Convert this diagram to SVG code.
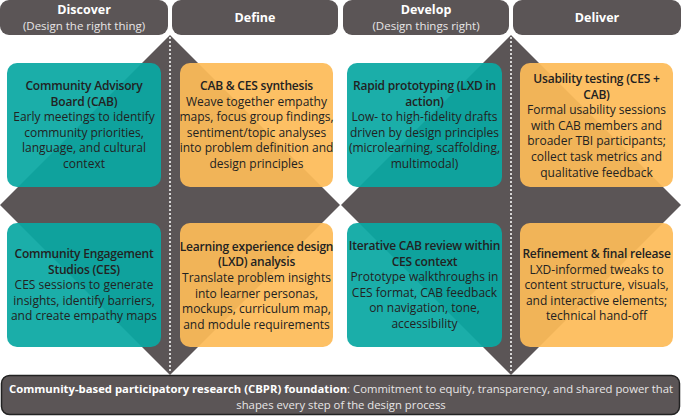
<svg xmlns="http://www.w3.org/2000/svg" width="681" height="416" viewBox="0 0 681 416">
<style>
.hdr{fill:#5b5556}
.dia{fill:#5b5556}
.teal{fill:#0aa8a3;fill-opacity:0.93}
.orng{fill:#fdbb58;fill-opacity:0.93}
.bt{font-family:"Open Sans","Liberation Sans",sans-serif;font-size:12px;fill:#222;text-anchor:middle}
.b{font-weight:600;letter-spacing:-0.2px}
.ht{font-family:"Open Sans","Liberation Sans",sans-serif;font-size:12.5px;font-weight:700;fill:#fff;text-anchor:middle}
.hs{font-family:"Open Sans","Liberation Sans",sans-serif;font-size:11.5px;fill:#e8e6e6;text-anchor:middle}
.div{stroke:#fff;stroke-width:1.5;stroke-dasharray:2 2;fill:none}
.ft{font-family:"Open Sans","Liberation Sans",sans-serif;font-size:11.3px;fill:#e8e6e6;text-anchor:middle}
</style>
<rect width="681" height="416" fill="#fff"/>
<g id="background">
<polygon class="dia" points="170,35 340,205 170,375 0,205"/>
<polygon class="dia" points="511,35 681,205 511,375 341,205"/>
</g>
<g id="headers">
<g id="h-discover"><rect class="hdr" x="0" y="0" width="168" height="35" rx="9"/>
<text class="ht" x="84" y="14">Discover</text><text class="hs" x="84" y="30">(Design the right thing)</text></g>
<g id="h-define"><rect class="hdr" x="172" y="0" width="166" height="35" rx="9"/>
<text class="ht" x="255" y="22">Define</text></g>
<g id="h-develop"><rect class="hdr" x="343" y="0" width="166" height="35" rx="9"/>
<text class="ht" x="426" y="14">Develop</text><text class="hs" x="426" y="30">(Design things right)</text></g>
<g id="h-deliver"><rect class="hdr" x="513" y="0" width="168" height="35" rx="9"/>
<text class="ht" x="597" y="22">Deliver</text></g>
</g>
<g id="dividers">
<line class="div" x1="170" y1="37" x2="170" y2="373"/>
<line class="div" x1="511" y1="37" x2="511" y2="373"/>
</g>
<g id="cab">
<rect class="teal" x="7" y="63" width="154" height="124" rx="10"/>
<text class="bt" y="90"><tspan class="b" x="84">Community Advisory</tspan><tspan class="b" x="84" dy="15.6">Board (CAB)</tspan><tspan x="84" dy="15.6">Early meetings to identify</tspan><tspan x="84" dy="15.6">community priorities,</tspan><tspan x="84" dy="15.6">language, and cultural</tspan><tspan x="84" dy="15.6">context</tspan></text>
</g>
<g id="synthesis">
<rect class="orng" x="180" y="63" width="153" height="124" rx="10"/>
<text class="bt" y="90"><tspan class="b" x="256.5">CAB &amp; CES synthesis</tspan><tspan x="256.5" dy="15.6">Weave together empathy</tspan><tspan x="256.5" dy="15.6">maps, focus group findings,</tspan><tspan x="256.5" dy="15.6">sentiment/topic analyses</tspan><tspan x="256.5" dy="15.6">into problem definition and</tspan><tspan x="256.5" dy="15.6">design principles</tspan></text>
</g>
<g id="prototyping">
<rect class="teal" x="347" y="63" width="155" height="124" rx="10"/>
<text class="bt" y="90"><tspan class="b" x="424.5">Rapid prototyping (LXD in</tspan><tspan class="b" x="424.5" dy="15.6">action)</tspan><tspan x="424.5" dy="15.6">Low- to high-fidelity drafts</tspan><tspan x="424.5" dy="15.6">driven by design principles</tspan><tspan x="424.5" dy="15.6">(microlearning, scaffolding,</tspan><tspan x="424.5" dy="15.6">multimodal)</tspan></text>
</g>
<g id="usability">
<rect class="orng" x="520" y="63" width="153" height="124" rx="10"/>
<text class="bt" y="83"><tspan class="b" x="596.5">Usability testing (CES +</tspan><tspan class="b" x="596.5" dy="15.6">CAB)</tspan><tspan x="596.5" dy="15.6">Formal usability sessions</tspan><tspan x="596.5" dy="15.6">with CAB members and</tspan><tspan x="596.5" dy="15.6">broader TBI participants;</tspan><tspan x="596.5" dy="15.6">collect task metrics and</tspan><tspan x="596.5" dy="15.6">qualitative feedback</tspan></text>
</g>
<g id="ces">
<rect class="teal" x="7" y="223" width="154" height="124" rx="10"/>
<text class="bt" y="258"><tspan class="b" x="84">Community Engagement</tspan><tspan class="b" x="84" dy="15.6">Studios (CES)</tspan><tspan x="84" dy="15.6">CES sessions to generate</tspan><tspan x="84" dy="15.6">insights, identify barriers,</tspan><tspan x="84" dy="15.6">and create empathy maps</tspan></text>
</g>
<g id="lxd">
<rect class="orng" x="180" y="223" width="153" height="124" rx="10"/>
<text class="bt" y="250.7"><tspan class="b" x="256.5">Learning experience design</tspan><tspan class="b" x="256.5" dy="15.6">(LXD) analysis</tspan><tspan x="256.5" dy="15.6">Translate problem insights</tspan><tspan x="256.5" dy="15.6">into learner personas,</tspan><tspan x="256.5" dy="15.6">mockups, curriculum map,</tspan><tspan x="256.5" dy="15.6">and module requirements</tspan></text>
</g>
<g id="review">
<rect class="teal" x="347" y="223" width="155" height="124" rx="10"/>
<text class="bt" y="250"><tspan class="b" x="424.5">Iterative CAB review within</tspan><tspan class="b" x="424.5" dy="15.6">CES context</tspan><tspan x="424.5" dy="15.6">Prototype walkthroughs in</tspan><tspan x="424.5" dy="15.6">CES format, CAB feedback</tspan><tspan x="424.5" dy="15.6">on navigation, tone,</tspan><tspan x="424.5" dy="15.6">accessibility</tspan></text>
</g>
<g id="release">
<rect class="orng" x="520" y="223" width="153" height="124" rx="10"/>
<text class="bt" y="258"><tspan class="b" x="596.5">Refinement &amp; final release</tspan><tspan x="596.5" dy="15.6">LXD-informed tweaks to</tspan><tspan x="596.5" dy="15.6">content structure, visuals,</tspan><tspan x="596.5" dy="15.6">and interactive elements;</tspan><tspan x="596.5" dy="15.6">technical hand-off</tspan></text>
</g>
<g id="foundation">
<rect x="1.5" y="375.5" width="678" height="39" rx="8" fill="#5b5556" stroke="#222" stroke-width="1.5"/>
<text class="ft" x="341" y="392.5"><tspan font-weight="700" fill="#fff">Community-based participatory research (CBPR) foundation</tspan>: Commitment to equity, transparency, and shared power that</text>
<text class="ft" x="341" y="408.5">shapes every step of the design process</text>
</g>
</svg>
